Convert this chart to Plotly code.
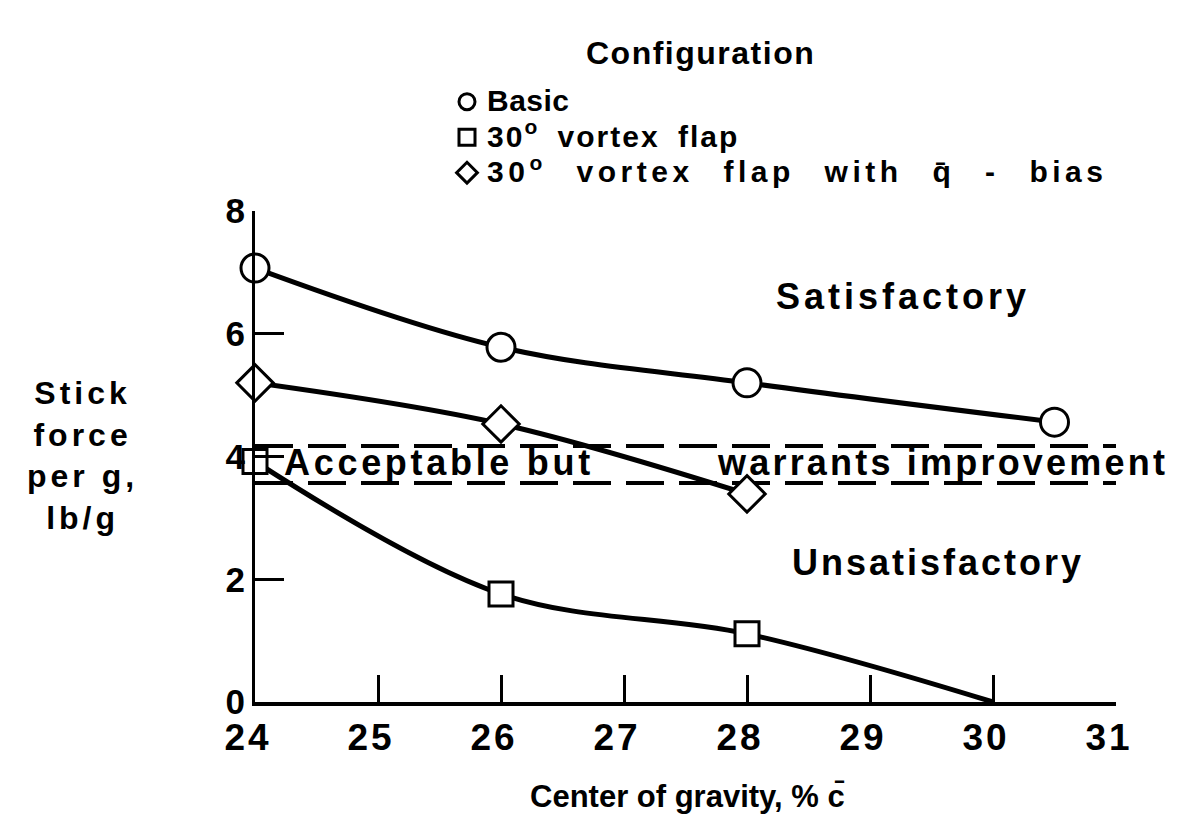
import plotly.graph_objects as go

# ---- data --------------------------------------------------------------------
basic_x = [24, 26, 28, 30.5]
basic_y = [7.07, 5.78, 5.2, 4.56]

flap_x = [24, 26, 28]
flap_y = [3.92, 1.76, 1.11]
flap_line_x = [24, 26, 28, 30]
flap_line_y = [3.92, 1.76, 1.11, 0.0]

qbias_x = [24, 26, 28]
qbias_y = [5.2, 4.53, 3.39]

bound_upper = 4.17
bound_lower = 3.57

x_ticks = [24, 25, 26, 27, 28, 29, 30, 31]
y_ticks = [0, 2, 4, 6, 8]

FONT = "Liberation Sans"
BLACK = "#000000"


def spaced(text, ls, ws=None, size=None):
    style = f"letter-spacing:{ls}px"
    if ws is not None:
        style += f";word-spacing:{ws}px"
    if size is not None:
        style += f";font-size:{size}px"
    return f'<span style="{style}">{text}</span>'


fig = go.Figure()

# boundaries (dashed)
for yb in (bound_upper, bound_lower):
    fig.add_trace(go.Scatter(
        x=[24, 31], y=[yb, yb], mode="lines", showlegend=False,
        line=dict(color=BLACK, width=4, dash="38px,15px"),
        hoverinfo="skip", cliponaxis=False,
    ))

# curves (smoothed), no legend
for xs, ys in ((basic_x, basic_y), (flap_line_x, flap_line_y), (qbias_x, qbias_y)):
    fig.add_trace(go.Scatter(
        x=xs, y=ys, mode="lines", line=dict(color=BLACK, width=5, shape="spline", smoothing=1.0),
        showlegend=False, cliponaxis=False, hoverinfo="skip",
    ))

# markers carry the legend
series = [
    (spaced("Basic", 0.5, size=30), basic_x, basic_y, "circle", 28),
    (spaced("30<sup>o</sup> vortex flap", 2, ws=8, size=30), flap_x, flap_y, "square", 24),
    (spaced("30<sup>o</sup> vortex flap with q\u0304 - bias", 4.5, ws=17, size=30),
     qbias_x, qbias_y, "diamond", 28),
]
for name, xs, ys, sym, size in series:
    fig.add_trace(go.Scatter(
        x=xs, y=ys, mode="markers", name=name, cliponaxis=False,
        marker=dict(symbol=sym, size=size, color="white", line=dict(color=BLACK, width=3)),
    ))

txt = dict(family=FONT, size=36, color=BLACK, weight="bold")

annotations = [
    dict(text=spaced("Configuration", 1.5), x=0.517, y=1.3625, xref="paper", yref="paper",
         xanchor="center", showarrow=False, font=dict(txt, size=32)),
    dict(text=spaced("Satisfactory", 4), x=29.27, y=6.6, showarrow=False, font=txt),
    dict(text=spaced("Unsatisfactory", 3), x=29.55, y=2.28, showarrow=False, font=txt),
    dict(text=spaced("Acceptable but", 3.7), x=24.22, y=3.9, xanchor="left",
         showarrow=False, font=txt),
    dict(text=spaced("warrants improvement", 3.2), x=27.74, y=3.9, xanchor="left",
         showarrow=False, font=txt),
    dict(text=spaced("Stick<br>force<br>per g,<br>lb/g", 4), x=-0.2, y=0.503,
         xref="paper", yref="paper", xanchor="center", showarrow=False,
         font=dict(txt, size=32), align="center"),
    dict(text="Center of gravity, % c\u0304", x=0.502, y=-0.193, xref="paper", yref="paper",
         xanchor="center", showarrow=False, font=dict(txt, size=31), yanchor="middle"),
]

fig.update_layout(
    width=1178, height=821,
    paper_bgcolor="white", plot_bgcolor="white",
    margin=dict(l=247, r=70, t=203, b=127),
    font=txt,
    annotations=annotations,
    legend=dict(x=0.223, y=1.269, xanchor="left", yanchor="top",
                font=dict(family=FONT, size=25, color=BLACK, weight="bold"),
                bgcolor="rgba(0,0,0,0)", tracegroupgap=0, itemsizing="trace"),
)

fig.update_xaxes(
    range=[24, 31], tickvals=x_ticks, ticktext=[spaced(str(t), 3) for t in x_ticks],
    ticks="inside", ticklen=27, tickwidth=3, ticklabelshift=-7,
    tickcolor=BLACK, showline=True, linecolor=BLACK, linewidth=4, showgrid=False,
    zeroline=False, tickfont=dict(family=FONT, size=37, color=BLACK, weight="bold"),
)
fig.update_yaxes(
    range=[0, 8], tickvals=y_ticks, ticks="inside", ticklen=29, tickwidth=3,
    tickcolor=BLACK, showline=True, linecolor=BLACK, linewidth=3, showgrid=False,
    zeroline=False, tickfont=dict(family=FONT, size=35, color=BLACK, weight="bold"),
)

fig.write_html("out.html")
